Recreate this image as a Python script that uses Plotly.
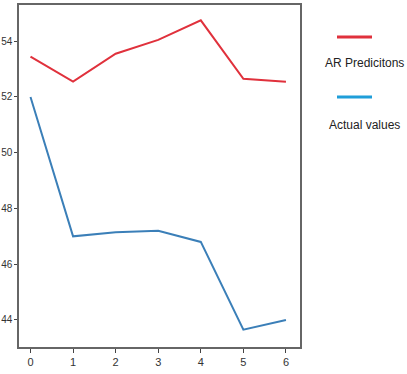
import plotly.graph_objects as go

steps = [0, 1, 2, 3, 4, 5, 6]
ar_predictions = [53.45, 52.55, 53.55, 54.05, 54.75, 52.65, 52.55]
actual_values = [52.0, 47.0, 47.15, 47.2, 46.8, 43.65, 44.0]
y_ticks = [44, 46, 48, 50, 52, 54]
legend_labels = ["AR Predicitons", "Actual values"]

red = "#e0313c"
blue = "#3b7fb8"

fig = go.Figure()
fig.add_trace(go.Scatter(x=steps, y=ar_predictions, mode="lines",
                         line=dict(color=red, width=2), name=legend_labels[0]))
fig.add_trace(go.Scatter(x=steps, y=actual_values, mode="lines",
                         line=dict(color=blue, width=2), name=legend_labels[1]))

font_family = "Liberation Sans Narrow, Liberation Sans, Arial"
axis_common = dict(showline=True, linecolor="#666", linewidth=1.5, mirror=True,
                   showgrid=False, zeroline=False, ticks="outside",
                   tickcolor="#444", automargin=False)

fig.update_xaxes(range=[-0.27, 6.33], tickvals=steps, ticklen=4,
                 tickfont=dict(family=font_family, size=11, color="#333"), **axis_common)
fig.update_yaxes(range=[43.03, 55.3], tickvals=y_ticks, ticklen=3, ticklabelstandoff=0,
                 tickfont=dict(family=font_family, size=10, color="#333"), **axis_common)

# custom legend (line above text)
legend_font = dict(family=font_family, size=12, color="#222")
L, PW = 19, 281
for color, label, y_line, y_text in [(red, legend_labels[0], 37, 63), ("#1f9ed9", legend_labels[1], 97, 125)]:
    fig.add_shape(type="line", xref="paper", yref="paper",
                  x0=(337 - L) / PW, x1=(372 - L) / PW,
                  y0=(347 - y_line) / 342, y1=(347 - y_line) / 342,
                  line=dict(color=color, width=3))
    fig.add_annotation(xref="paper", yref="paper", x=(364 - L) / PW, y=(347 - y_text) / 342,
                       text=label, showarrow=False, font=legend_font, xanchor="center", yanchor="middle")

fig.update_layout(width=407, height=374, margin=dict(l=L, r=407 - L - PW, t=5, b=27),
                  plot_bgcolor="white", paper_bgcolor="white", showlegend=False)

fig.write_html("out.html", config={"displayModeBar": False},
               post_script="document.body.style.margin='0';")
